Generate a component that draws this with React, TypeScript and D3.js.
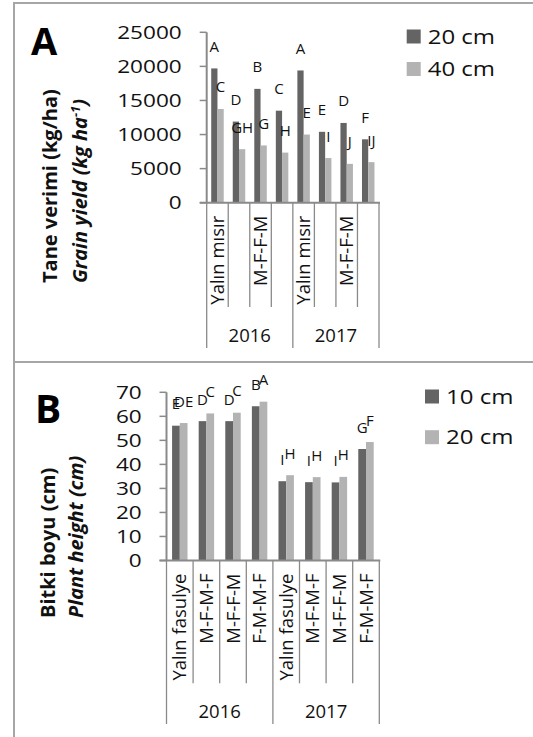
import React from "react";
import * as d3 from "d3";

// ---------- DATA ----------
const years = ["2016", "2017"];
const categoriesA = ["Yalın mısır", "M-F-M-F", "M-F-F-M", "F-M-M-F"];
const shownA = [true, false, true, false]; // labels Excel displayed
const seriesA = ["20 cm", "40 cm"];
const yieldA20 = [19700, 11900, 16700, 13500, 19400, 10400, 11700, 9300];
const yieldA40 = [13750, 7850, 8400, 7350, 10000, 6550, 5700, 5950];
const lettersA20 = ["A", "D", "B", "C", "A", "E", "D", "F"];
const lettersA40 = ["C", "GH", "G", "H", "E", "I", "J", "IJ"];
const ticksA = [0, 5000, 10000, 15000, 20000, 25000];

const categoriesB = ["Yalın fasulye", "M-F-M-F", "M-F-F-M", "F-M-M-F"];
const seriesB = ["10 cm", "20 cm"];
const heightB10 = [56.1, 58.0, 58.0, 64.2, 33.0, 32.6, 32.5, 46.4];
const heightB20 = [57.2, 61.2, 61.5, 66.1, 35.5, 34.7, 34.8, 49.3];
const lettersB10 = ["E", "D", "D", "B", "I", "I", "I", "G"];
const lettersB20 = ["DE", "C", "C", "A", "H", "H", "H", "F"];
const ticksB = [0, 10, 20, 30, 40, 50, 60, 70];

const DARK = "#646464";
const LIGHT = "#b3b3b3";
const AXIS = "#8a8a8a";
const FONT = "'Open Sans', sans-serif";

type PanelProps = {
  x0: number; x1: number; yBottom: number; yTop: number; max: number;
  ticks: number[]; s1: number[]; s2: number[]; l1: string[]; l2: string[];
  cats: string[]; shown: boolean[]; catEnd: number; yearEnd: number; yearY: number;
  tickRight: number;
};

function Panel(p: PanelProps) {
  const keys = d3.range(p.s1.length);
  const x = d3.scaleBand<number>().domain(keys).range([p.x0, p.x1]).padding(0);
  const y = d3.scaleLinear().domain([0, p.max]).range([p.yBottom, p.yTop]);
  const bw = x.bandwidth() * 0.29;
  const off = (x.bandwidth() - 2 * bw) / 2;
  const bars: React.ReactNode[] = [];
  keys.forEach((i) => {
    const bx = (x(i) as number) + off;
    [[p.s1[i], p.l1[i], DARK, bx], [p.s2[i], p.l2[i], LIGHT, bx + bw]].forEach(
      ([v, l, c, xx]: any, j) => {
        bars.push(
          <rect key={`r${i}-${j}`} x={xx} width={bw} y={y(v)} height={p.yBottom - y(v)} fill={c} />
        );
        bars.push(
          <text key={`t${i}-${j}`} x={xx + bw / 2} y={y(v) - 16.5} textAnchor="middle"
            fontSize={15} fontFamily={FONT} fill="#111">{l}</text>
        );
      }
    );
  });
  const perYear = p.cats.length;
  return (
    <g>
      {bars}
      {/* y axis */}
      <line x1={p.x0} x2={p.x0} y1={p.yTop} y2={p.yBottom} stroke={AXIS} strokeWidth={2} />
      {p.ticks.map((t) => (
        <g key={t}>
          <line x1={p.x0 - 7} x2={p.x0} y1={y(t)} y2={y(t)} stroke={AXIS} strokeWidth={1.5} />
          <text transform={`translate(${p.tickRight},${y(t)}) scale(1.22,1)`} textAnchor="end"
            dy="0.36em" fontSize={18.5} fontFamily={FONT} fill="#111">{t}</text>
        </g>
      ))}
      {/* x axis */}
      <line x1={p.x0 - 7} x2={p.x1 + 1} y1={p.yBottom} y2={p.yBottom} stroke={AXIS} strokeWidth={2} />
      {d3.range(keys.length + 1).map((k) => {
        const xx = k < keys.length ? (x(k) as number) : p.x1;
        const isYear = k % perYear === 0;
        return (
          <line key={`d${k}`} x1={xx} x2={xx} y1={p.yBottom} y2={isYear ? p.yearEnd : p.catEnd}
            stroke={AXIS} strokeWidth={1.3} />
        );
      })}
      {keys.map((i) => {
        const ci = i % perYear;
        if (!p.shown[ci]) return null;
        const cx = (x(i) as number) + x.bandwidth() / 2;
        return (
          <text key={`c${i}`} transform={`translate(${cx},${p.yBottom + 13}) rotate(-90)`}
            textAnchor="end" dy="0.36em" fontSize={18.5} fontFamily={FONT} fill="#111">
            {p.cats[ci]}
          </text>
        );
      })}
      {years.map((yr, k) => {
        const cx = ((x(k * perYear) as number) + (x((k + 1) * perYear - 1) as number) + x.bandwidth()) / 2;
        return (
          <text key={yr} x={cx} y={p.yearY} dy="0.36em" textAnchor="middle" fontSize={18.5}
            fontFamily={FONT} fill="#111">{yr}</text>
        );
      })}
    </g>
  );
}

function Legend({ x, y, gap, names }: { x: number; y: number; gap: number; names: string[] }) {
  return (
    <g>
      {names.map((n, i) => (
        <g key={n}>
          <rect x={x} y={y + i * gap - 7} width={14} height={14} fill={i === 0 ? DARK : LIGHT} />
          <text transform={`translate(${x + 21},${y + i * gap}) scale(1.2,1)`} dy="0.36em"
            fontSize={20} fontFamily={FONT} fill="#111">{n}</text>
        </g>
      ))}
    </g>
  );
}

export default function App() {
  return (
    <svg width={533} height={737} style={{ position: "absolute", left: 0, top: 0, background: "#fff" }}>
      <rect width={533} height={737} fill="#fff" />
      {/* frame */}
      <line x1={14} x2={533} y1={3} y2={3} stroke="#a6a6a6" strokeWidth={2} />
      <line x1={14} x2={533} y1={362} y2={362} stroke="#a6a6a6" strokeWidth={2} />
      <line x1={14} x2={14} y1={2} y2={737} stroke="#a6a6a6" strokeWidth={2} />

      {/* Panel A */}
      <text x={31} y={55} fontSize={38} fontWeight="bold" fontFamily={FONT} fill="#000">A</text>
      <text transform="translate(57,283) rotate(-90)" fontSize={20} fontWeight="bold" fontFamily={FONT} fill="#111">
        Tane verimi (kg/ha)
      </text>
      <text transform="translate(87,283) rotate(-90)" fontSize={20} fontWeight="bold" fontStyle="italic" fontFamily={FONT} fill="#111">
        Grain yield (kg ha<tspan dy={-7} fontSize={13}>-1</tspan><tspan dy={7}>)</tspan>
      </text>
      <Panel x0={206.7} x1={379} yBottom={202.7} yTop={32.3} max={25000} ticks={ticksA}
        s1={yieldA20} s2={yieldA40} l1={lettersA20} l2={lettersA40}
        cats={categoriesA} shown={shownA} catEnd={307} yearEnd={348} yearY={335} tickRight={181.7} />
      <Legend x={406.7} y={36.5} gap={32.5} names={seriesA} />

      {/* Panel B */}
      <text x={35} y={423} fontSize={39} fontWeight="bold" fontFamily={FONT} fill="#000">B</text>
      <text transform="translate(55,618) rotate(-90)" fontSize={20} fontWeight="bold" fontFamily={FONT} fill="#111">
        Bitki boyu (cm)
      </text>
      <text transform="translate(83.3,618) rotate(-90)" fontSize={20} fontWeight="bold" fontStyle="italic" fontFamily={FONT} fill="#111">
        Plant height (cm)
      </text>
      <Panel x0={166.5} x1={379.3} yBottom={560.5} yTop={392.3} max={70} ticks={ticksB}
        s1={heightB10} s2={heightB20} l1={lettersB10} l2={lettersB20}
        cats={categoriesB} shown={[true, true, true, true]} catEnd={683.3} yearEnd={724} yearY={711.7} tickRight={141.7} />
      <Legend x={425} y={396.5} gap={40.7} names={seriesB} />
    </svg>
  );
}
